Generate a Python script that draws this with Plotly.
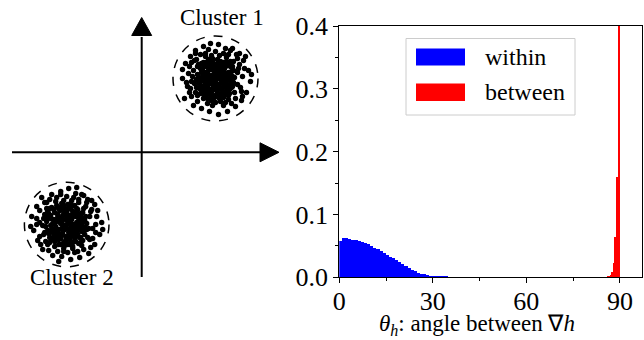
import plotly.graph_objects as go

# ---------------- data ----------------
within_bin_left = [0, 1, 2, 3, 4, 5, 6, 7, 8, 9, 10, 11, 12, 13, 14, 15, 16, 17, 18, 19, 20,
                   21, 22, 23, 24, 25, 26, 27, 28, 29, 30, 31, 32, 33, 34, 35, 36, 37, 38, 39, 40, 41]
within_density = [0.058, 0.063, 0.062, 0.061, 0.060, 0.060, 0.058, 0.056, 0.055, 0.053, 0.050,
                  0.047, 0.045, 0.042, 0.039, 0.036, 0.033, 0.030, 0.027, 0.024, 0.021,
                  0.018, 0.015, 0.012, 0.0095, 0.0075, 0.006, 0.0045, 0.0035, 0.0025, 0.0018,
                  0.0014, 0.0006, 0.0005, 0.0005, 0.0004, 0.0004, 0.0003, 0.0003, 0.0003, 0.0002, 0.0002]
within_bin_width = 1.0

between_bin_left = [86.0, 86.5, 87.0, 87.5, 88.0, 88.5, 89.0, 89.5]
between_density = [0.0005, 0.0015, 0.004, 0.009, 0.022, 0.064, 0.16, 0.78]
between_bin_width = 0.5

y_tick_vals = [0.0, 0.1, 0.2, 0.3, 0.4]
y_tick_text = ["0.0", "0.1", "0.2", "0.3", "0.4"]
x_tick_vals = [0, 30, 60, 90]
x_tick_text = ["0", "30", "60", "90"]

legend_labels = ["within", "between"]
cluster_labels = ["Cluster 1", "Cluster 2"]
x_title = "<i>θ</i><sub><i>h</i></sub>: angle between ∇<i>h</i>"

# schematic cluster point offsets (pixels from cluster centre)
cluster1_dx = [-18, -16, -15, -14, -13, -12, -11, -10, -9, -9, -8, -7, -6, -6, -5, -4, -4, -3, -2, -2,
               -1, 0, 0, 1, 1, 2, 3, 3, 4, 4, 5, 6, 6, 7, 8, 8, 9, 10, 10, 11, 12, 13, 14, 14, 15, 16,
               17, 18, -19, -17, 12, -3, 5, -12, 18, -8, 9, -15, 15,
               -16, -14, -11, -11, -10, -7, -7, -5, -5, -3, -1, -1, 1, 2, 2, 4, 5, 6, 7, 8, 9, 11, 12,
               13, 15, 16, -13, -9, -6, 0, 3, 10, -2, 6, -4, 1, -9, 11, -17, 17,
               -18, -16, -15, -13, -12, -10, -9, -8, -8, -6, -5, -4, -3, -2, -1, 0, 1, 2, 3, 4, 5, 6,
               7, 8, 9, 10, 11, 12, 13, 14, 15, 16, 17, 19, -11, -19, -14, 3, -7, 13,
               -22, -21, -20, -19, -23, -10, -4, 4, 11, 18, 22, 22, 19, 13, 5, -4, -12, -18, -25, -26,
               -15, 8, 24, 26, -8, 15, -29, 29, -7, 21, 27, -20, 10, 0, -24,
               -30, -28, -25, -24, -33, -22, -20, -12, -5, 3, 10, 17, 24, 28, 33, 35, 31, 26, 20, 12,
               3, -6, -14, -27, 23, -21, 25, -24, 20, -18, 8, -3, 27, 16, -26, 22, 0, -10, 13, 30,
               -33, -31, 36]
cluster1_dy = [-4, 5, -10, 12, 0, -16, 7, -6, 16, 2, -12, 10, -3, -18, 5, 14, -9, 0, -15, 8,
               19, -5, 3, 12, -11, -19, 6, -2, 16, -8, 1, -14, 10, -4, 5, 19, -10, 13, -1, -17, 7, -6,
               2, 15, -12, 9, -2, 4, 9, -14, -13, -20, -17, 14, -8, 20, 17, 15, -17,
               -1, -6, -12, 3, 10, -8, 4, -14, -1, 11, -8, 6, -2, 15, -14, -4, 9, -9, 1, -16, 8, -5,
               11, 0, 6, -7, 8, -2, 15, 17, -9, 4, -4, 4, 3, 9, -16, 16, 2, -12,
               -12, 10, 3, -9, -3, -15, 12, -5, 8, 1, -11, 18, -17, 3, -12, 9, 0, -7, 11, 20, -12, -1,
               14, -8, 2, -12, 9, -2, -15, 11, -4, 3, 8, -1, 18, 1, -15, -16, -19, 17,
               -8, 5, 14, -19, -2, -22, -23, -23, -21, -17, -6, 6, 14, 21, 23, 22, 20, 17, 10, -12,
               -24, -25, -14, 13, 25, -28, 4, -10, -29, -24, 18, -25, 24, 24, -16,
               -15, 8, -22, 18, 0, 27, -28, -32, -35, -34, -30, -30, -25, -18, -8, 3, 14, 22, 28, 33,
               36, 33, 30, -5, -10, -18, 9, 3, 20, 23, 27, 27, -2, 25, 14, -20, -27, -25, -24, -22,
               -9, 20, -4]

cluster2_dx = [-20, -19, -18, -17, -16, -15, -14, -13, -12, -12, -11, -10, -10, -9, -8, -8, -7, -6, -6,
               -5, -4, -4, -3, -3, -2, -1, -1, 0, 0, 1, 1, 2, 2, 3, 3, 4, 4, 5, 5, 6, 6, 7, 7, 8, 8, 9,
               10, 10, 11, 11, 12, 12, 13, 13, 14, 15, 16, 16, 17, 18, 18, 19, 20, -19, -15, -14, -12,
               -9, -7, -5, -3, -1, 1, 2, 4, 6, 8, 9, 11, 14, 15, -17, -2, -8, 0, 5, -4, 3, 9, -11, 14, -16,
               -21, -19, -18, -16, -15, -13, -13, -11, -10, -9, -8, -7, -6, -5, -4, -3, -2, -1, 0, 1,
               2, 3, 4, 5, 6, 7, 8, 9, 10, 11, 12, 13, 14, 15, 16, 17, 18, 20, -17, -20, 6, -6,
               -23, -22, -21, -20, -24, -11, -3, 5, 12, 19, 23, 22, 21, 15, 6, -3, -12, -19, -27, -27,
               -17, 7, 25, 26, -9, 15, -30, 29, -6, 21, 28, -22, 11, 1, 24,
               -35, -33, -30, -29, -25, -24, -27, -22, -23, -15, -6, 2, 9, 17, 25, 31, 35, 33, 28, 22,
               13, 4, -5, -14, 24, 26, -26, -20, 20, 23, -10, 0, 12, -30, 30, 29, 8, -3, 17, -18, -36,
               36, -8, 10]
cluster2_dy = [-3, 6, -11, 13, 1, -17, 8, -5, 17, -12, 2, -19, 11, -7, 20, 5, -14, -1, 14,
               -21, 8, -9, 18, 1, -16, 12, -5, 4, -12, 20, -20, 8, -2, 15, -9, -16, 3, 11, -5, 18, -13,
               0, 7, -19, 14, -8, 4, -2, 10, -15, 19, -6, 2, 13, -11, 7, -3, 16, -16, 3, 10, -8, -1,
               -8, 15, -1, 5, -17, 10, 4, -13, 16, -8, 12, -21, -8, 9, -12, -1, 5, -7, -16, 21, -3, 0,
               0, -5, 5, 17, 15, 18, -6,
               2, -13, 9, -9, 5, 12, -15, -3, 7, -10, 15, -6, -17, 10, 0, -19, 5, -10, 15, -15,
               -5, 20, 9, -18, 5, -10, 2, 12, -16, 6, -10, -2, 13, 0, -12, 7, -4, 5, 18, -5, 22, 20,
               -6, 8, 17, -16, 1, -23, -24, -24, -22, -18, -8, 4, 13, 21, 24, 24, 22, 20, 12, -14,
               -25, -27, -15, 14, 27, -30, -6, 0, -30, -25, -20, -22, 27, 28, 23,
               -8, 6, -18, 16, -27, 25, -2, -10, 10, -30, -33, -36, -31, -29, -24, -14, -2, 10, 20, 29,
               33, 35, 32, 31, -13, 4, 20, -22, -22, 15, -27, -28, -25, 0, -8, 8, 28, 27, 25, 26, 2,
               5, 37, -37]

# ---------------- schematic geometry (pixel units) ----------------
W, H = 644, 340
C1 = (215.5, 78.5)
C2 = (66.7, 224.5)
R1, R2 = 42.5, 42.3
AXIS_Y, AXIS_X = 152.3, 141.7

font_family = "Liberation Serif, Times New Roman, serif"

fig = go.Figure()

# histogram panel
fig.add_trace(go.Bar(x=within_bin_left, y=within_density, width=within_bin_width, offset=0,
                     marker=dict(color="#0000ff", line=dict(width=0)), name=legend_labels[0],
                     showlegend=False, xaxis="x", yaxis="y"))
fig.add_trace(go.Bar(x=between_bin_left, y=between_density, width=between_bin_width, offset=0,
                     marker=dict(color="#ff0000", line=dict(width=0)), name=legend_labels[1],
                     showlegend=False, xaxis="x", yaxis="y"))

# clusters
fig.add_trace(go.Scatter(x=[C1[0] + d for d in cluster1_dx], y=[C1[1] + d for d in cluster1_dy],
                         mode="markers", marker=dict(color="black", size=5.4, line=dict(width=0)),
                         showlegend=False, xaxis="x2", yaxis="y2", hoverinfo="skip"))
fig.add_trace(go.Scatter(x=[C2[0] + d for d in cluster2_dx], y=[C2[1] + d for d in cluster2_dy],
                         mode="markers", marker=dict(color="black", size=5.4, line=dict(width=0)),
                         showlegend=False, xaxis="x2", yaxis="y2", hoverinfo="skip"))

shapes = []
# axes arrows
shapes.append(dict(type="line", xref="x2", yref="y2", x0=12, x1=262, y0=AXIS_Y, y1=AXIS_Y,
                   line=dict(color="black", width=2)))
shapes.append(dict(type="path", xref="x2", yref="y2",
                   path=f"M 260 {AXIS_Y-9.5} L 279 {AXIS_Y} L 260 {AXIS_Y+9.5} Z",
                   fillcolor="black", line=dict(color="black", width=1)))
shapes.append(dict(type="line", xref="x2", yref="y2", x0=AXIS_X, x1=AXIS_X, y0=277, y1=37,
                   line=dict(color="black", width=2)))
shapes.append(dict(type="path", xref="x2", yref="y2",
                   path=f"M {AXIS_X-10} 35.5 L {AXIS_X} 17.5 L {AXIS_X+10} 35.5 Z",
                   fillcolor="black", line=dict(color="black", width=1)))
# dashed circles
for (cx, cy), r in ((C1, R1), (C2, R2)):
    shapes.append(dict(type="circle", xref="x2", yref="y2", x0=cx - r, x1=cx + r, y0=cy - r, y1=cy + r,
                       line=dict(color="black", width=1.5, dash="dash")))
# legend box
shapes.append(dict(type="rect", xref="x2", yref="y2", x0=406, x1=575, y0=38.5, y1=115,
                   line=dict(color="#cccccc", width=1), fillcolor="white"))
shapes.append(dict(type="rect", xref="x2", yref="y2", x0=416, x1=465, y0=48.5, y1=65.5,
                   line=dict(width=0), fillcolor="#0000ff"))
shapes.append(dict(type="rect", xref="x2", yref="y2", x0=416, x1=465, y0=83.5, y1=101,
                   line=dict(width=0), fillcolor="#ff0000"))

annotations = [
    dict(text=cluster_labels[0], x=221.5, y=17, xref="x2", yref="y2", showarrow=False,
         font=dict(size=23, color="black", family=font_family)),
    dict(text=cluster_labels[1], x=71.5, y=277.5, xref="x2", yref="y2", showarrow=False,
         font=dict(size=23, color="black", family=font_family)),
    dict(text=legend_labels[0], x=483, y=57, xref="x2", yref="y2", showarrow=False, xanchor="left",
         font=dict(size=24, color="black", family=font_family)),
    dict(text=legend_labels[1], x=483, y=92, xref="x2", yref="y2", showarrow=False, xanchor="left",
         font=dict(size=24, color="black", family=font_family)),
    dict(text=x_title, x=477, y=325, xref="x2", yref="y2", showarrow=False,
         font=dict(size=23, color="black", family=font_family)),
]

tick_font = dict(size=26, color="black", family=font_family)

fig.update_layout(
    template="none",
    width=W, height=H, margin=dict(l=0, r=0, t=0, b=0, pad=0), autosize=False,
    paper_bgcolor="white", plot_bgcolor="rgba(0,0,0,0)",
    bargap=0, barmode="overlay", showlegend=False,
    font=dict(family=font_family, color="black", size=25),
    xaxis=dict(domain=[339.3 / W, 641.7 / W], range=[0, 97], anchor="y", automargin=False,
               tickmode="array", tickvals=x_tick_vals, ticktext=x_tick_text, ticks="outside",
               ticklen=5, tickwidth=1, tickcolor="black", showline=True, mirror=True,
               linecolor="black", linewidth=1, showgrid=False, zeroline=False, tickfont=tick_font,
               ticklabelstandoff=-5,
               minor=dict(tickvals=[15, 45, 75], ticks="outside", ticklen=3, tickcolor="black",
                          showgrid=False)),
    yaxis=dict(domain=[1 - 277.3 / H, 1 - 26 / H], range=[0, 0.4], anchor="x", automargin=False,
               tickmode="array", tickvals=y_tick_vals, ticktext=y_tick_text, ticks="outside",
               ticklen=5, tickwidth=1, tickcolor="black", showline=True, mirror=True,
               linecolor="black", linewidth=1, showgrid=False, zeroline=False, tickfont=tick_font,
               minor=dict(tickvals=[0.05, 0.15, 0.25, 0.35], ticks="outside", ticklen=3,
                          tickcolor="black", showgrid=False)),
    xaxis2=dict(domain=[0, 1], range=[0, W], anchor="y2", visible=False, fixedrange=True,
                automargin=False, showgrid=False, zeroline=False),
    yaxis2=dict(domain=[0, 1], range=[H, 0], anchor="x2", visible=False, fixedrange=True,
                automargin=False, showgrid=False, zeroline=False),
    shapes=shapes, annotations=annotations,
)

fig.write_html("out.html", config={"displayModeBar": False},
               post_script="document.body.style.margin='0';document.body.style.overflow='hidden';")
